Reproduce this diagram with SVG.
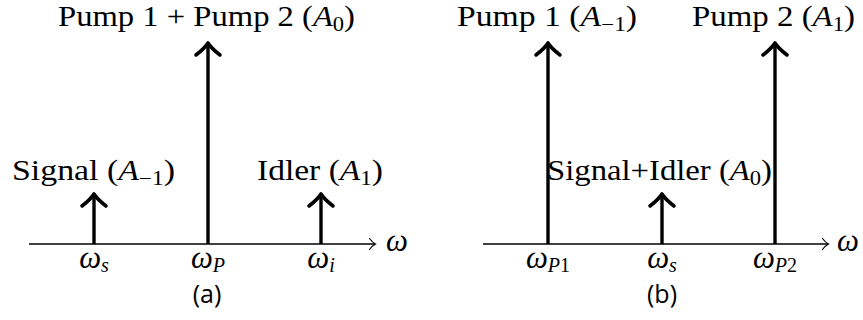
<svg xmlns="http://www.w3.org/2000/svg" width="863" height="320" viewBox="0 0 863 320">
<style>
text{font-family:"Liberation Serif","Times New Roman",serif;font-size:29px;fill:#000}
.i{font-style:italic}
.w{font-style:italic;font-size:31px}
.sub{font-size:20px}
.lbl{font-family:"Open Sans","DejaVu Sans",sans-serif;font-size:25px}
.axis{stroke:#000;stroke-width:1.3;fill:none}
.shaft{stroke:#000;stroke-width:3.4;fill:none}
.head{stroke:#000;stroke-width:3.6;fill:none;stroke-linecap:round;stroke-linejoin:round}
.ahead{stroke:#000;stroke-width:1.2;fill:none;stroke-linecap:round}
</style>
<rect width="863" height="320" fill="#fff"/>
<g id="connectors">
  <!-- panel a -->
  <line class="axis" x1="29" y1="244" x2="375" y2="244"/>
  <path class="ahead" d="M369.5,238.5 Q372.5,242.5 375.5,244 Q372.5,245.5 369.5,249.5"/>
  <line class="shaft" x1="94" y1="244" x2="94" y2="195"/>
  <path class="head" d="M82,206 Q91,199 94,194 Q97,199 106,206"/>
  <line class="shaft" x1="208" y1="244" x2="208" y2="45"/>
  <path class="head" d="M196,55 Q205,48 208,43 Q211,48 220,55"/>
  <line class="shaft" x1="321" y1="244" x2="321" y2="195"/>
  <path class="head" d="M309,206 Q318,199 321,194 Q324,199 333,206"/>
  <!-- panel b -->
  <line class="axis" x1="483" y1="244" x2="828" y2="244"/>
  <path class="ahead" d="M822.5,238.5 Q825.5,242.5 828.5,244 Q825.5,245.5 822.5,249.5"/>
  <line class="shaft" x1="548" y1="244" x2="548" y2="45"/>
  <path class="head" d="M536,55 Q545,48 548,43 Q551,48 560,55"/>
  <line class="shaft" x1="662" y1="244" x2="662" y2="195"/>
  <path class="head" d="M650,206 Q659,199 662,194 Q665,199 674,206"/>
  <line class="shaft" x1="775" y1="244" x2="775" y2="45"/>
  <path class="head" d="M763,55 Q772,48 775,43 Q778,48 787,55"/>
</g>
<g id="a-pump">
  <text x="58" y="26" textLength="297" lengthAdjust="spacingAndGlyphs">Pump 1 + Pump 2 (<tspan class="i">A</tspan><tspan class="sub" dy="5">0</tspan><tspan dy="-5">)</tspan></text>
</g>
<g id="a-signal">
  <text x="12" y="180" textLength="163" lengthAdjust="spacingAndGlyphs">Signal (<tspan class="i">A</tspan><tspan class="sub" dy="5">−1</tspan><tspan dy="-5">)</tspan></text>
</g>
<g id="a-idler">
  <text x="257" y="180" textLength="126" lengthAdjust="spacingAndGlyphs">Idler (<tspan class="i">A</tspan><tspan class="sub" dy="5">1</tspan><tspan dy="-5">)</tspan></text>
</g>
<g id="a-ticks">
  <text x="94" y="268" text-anchor="middle"><tspan class="w">ω</tspan><tspan class="sub i" dy="4">s</tspan></text>
  <text x="208" y="268" text-anchor="middle"><tspan class="w">ω</tspan><tspan class="sub i" dy="4">P</tspan></text>
  <text x="321" y="268" text-anchor="middle"><tspan class="w">ω</tspan><tspan class="sub i" dy="4">i</tspan></text>
  <text x="386" y="251" class="w">ω</text>
  <text x="207" y="303" text-anchor="middle" class="lbl">(a)</text>
</g>
<g id="b-pump1">
  <text x="457" y="26" textLength="180" lengthAdjust="spacingAndGlyphs">Pump 1 (<tspan class="i">A</tspan><tspan class="sub" dy="5">−1</tspan><tspan dy="-5">)</tspan></text>
</g>
<g id="b-pump2">
  <text x="692" y="26" textLength="163" lengthAdjust="spacingAndGlyphs">Pump 2 (<tspan class="i">A</tspan><tspan class="sub" dy="5">1</tspan><tspan dy="-5">)</tspan></text>
</g>
<g id="b-signal-idler">
  <text x="547" y="180" textLength="225" lengthAdjust="spacingAndGlyphs">Signal+Idler (<tspan class="i">A</tspan><tspan class="sub" dy="5">0</tspan><tspan dy="-5">)</tspan></text>
</g>
<g id="b-ticks">
  <text x="548" y="268" text-anchor="middle"><tspan class="w">ω</tspan><tspan class="sub i" dy="4">P</tspan><tspan class="sub">1</tspan></text>
  <text x="662" y="268" text-anchor="middle"><tspan class="w">ω</tspan><tspan class="sub i" dy="4">s</tspan></text>
  <text x="775" y="268" text-anchor="middle"><tspan class="w">ω</tspan><tspan class="sub i" dy="4">P</tspan><tspan class="sub">2</tspan></text>
  <text x="837" y="251" class="w">ω</text>
  <text x="662" y="303" text-anchor="middle" class="lbl">(b)</text>
</g>
</svg>
